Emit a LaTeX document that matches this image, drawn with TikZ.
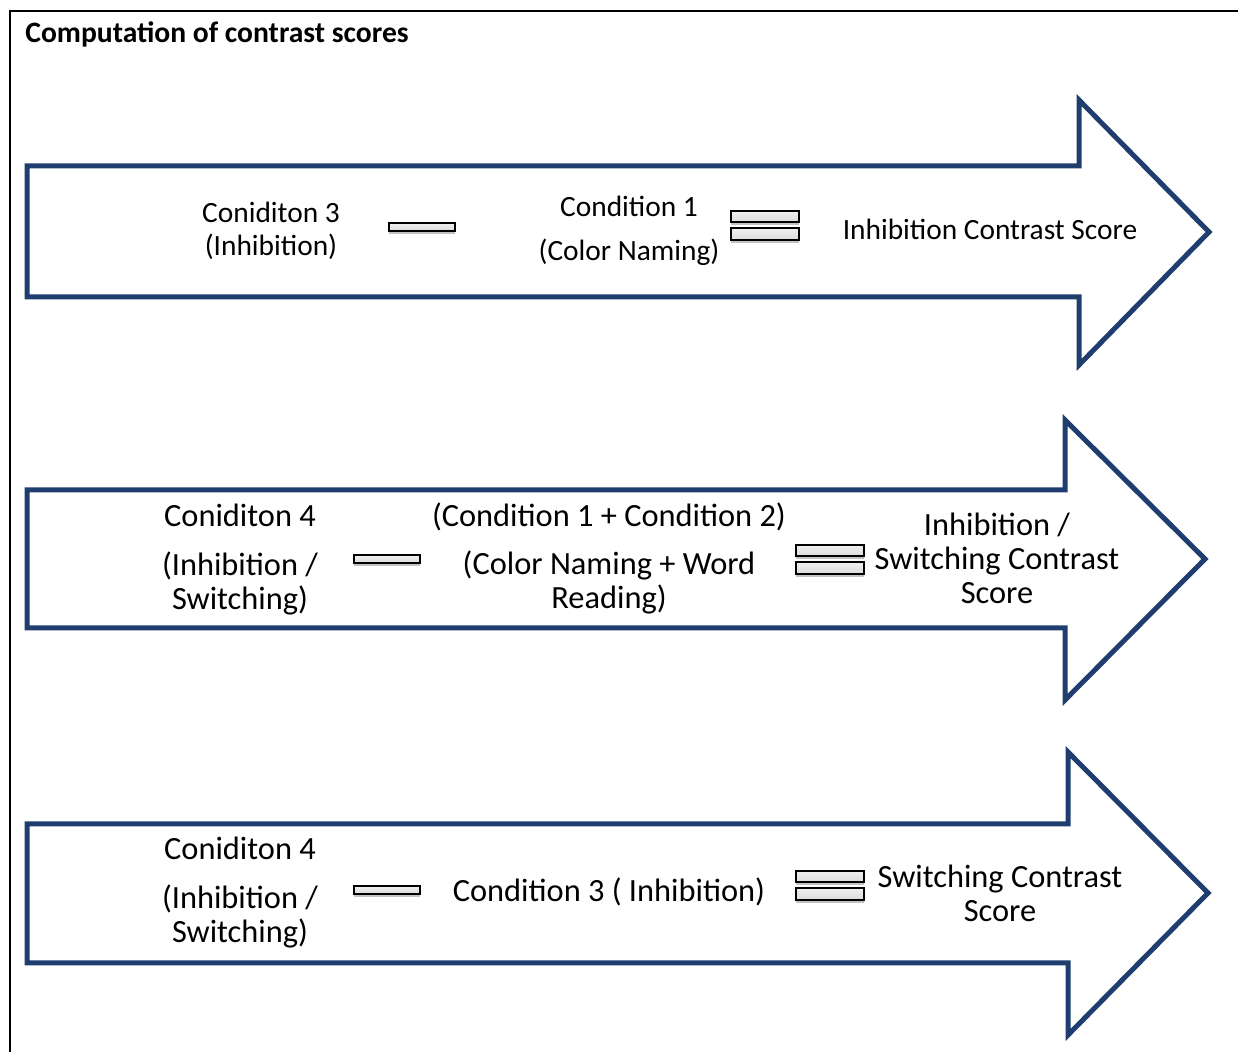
\documentclass[tikz,border=0pt]{standalone}
\usepackage{fontspec}
\setmainfont{Carlito}
\usepackage{tikz}
\usetikzlibrary{shadows,positioning}
\definecolor{arrowblue}{RGB}{31,61,110}
\tikzset{
    scorearrow/.style={draw=arrowblue, line width=2.5pt, line join=miter},
    bartext/.style={align=center, font=\fontsize{14.7}{17}\selectfont, inner sep=0pt},
    bigtext/.style={bartext, font=\fontsize{16.2}{17}\selectfont},
    signbar/.style={draw=black, line width=1pt, top color=gray!12, bottom color=gray!28,
        rectangle, inner sep=0pt, minimum width=33pt,
        drop shadow={shadow xshift=0pt, shadow yshift=-1.5pt, fill=gray!80, opacity=0.6}},
}
% equals sign made of two bars
\newcommand{\eqsign}[3]{%
  \node[signbar, minimum width=34pt, minimum height=5.5pt] (#1top) at (#2,#3-8.5) {};
  \node[signbar, minimum width=34pt, minimum height=6pt] (#1bot) at (#2,#3+9) {};
}
\begin{document}
\begin{tikzpicture}[x=0.5pt,y=-0.5pt]
\useasboundingbox (0,0) rectangle (1238,1052);
%Frame
\draw[line width=1.25pt] (10,1052) -- (10,11) -- (1238,11);
\node[anchor=west, inner sep=0pt, font=\fontsize{14.8}{17}\selectfont\bfseries] (title) at (25,34) {Computation of contrast scores};
%Arrow 1
\draw[scorearrow] (27,166) -- (1079,166) -- (1079,100) -- (1209,232) -- (1079,365) -- (1079,297) -- (27,297) -- cycle;
\node[bartext] (condA) at (271,230.5) {Coniditon 3\\[-0.5pt](Inhibition)};
\node[signbar, minimum height=4pt] (minusA) at (422,227) {};
\node[bartext] (refA) at (629,231) {Condition 1\\[5pt](Color Naming)};
\eqsign{eqA}{764.5}{225}
\node[bartext] (scoreA) at (990,229.5) {Inhibition Contrast Score};
%Arrow 2
\draw[scorearrow] (27,490) -- (1065,490) -- (1065,420) -- (1205,559) -- (1065,700) -- (1065,628) -- (27,628) -- cycle;
\node[bigtext] (condB) at (240,559.5) {Coniditon 4\\[7.5pt](Inhibition /\\Switching)};
\node[signbar, minimum height=4pt] (minusB) at (387,559) {};
\node[bigtext] (refB) at (609,558.5) {(Condition 1 + Condition 2)\\[7pt](Color Naming + Word\\Reading)};
\eqsign{eqB}{830}{559}
\node[bigtext] (scoreB) at (997,558.5) {Inhibition /\\Switching Contrast\\Score};
%Arrow 3
\draw[scorearrow] (27,824) -- (1068,824) -- (1068,752) -- (1208,893) -- (1068,1035) -- (1068,963) -- (27,963) -- cycle;
\node[bigtext] (condC) at (240,893) {Coniditon 4\\[7.5pt](Inhibition /\\Switching)};
\node[signbar, minimum height=4pt] (minusC) at (387,890) {};
\node[bigtext] (refC) at (609,891.5) {Condition 3 ( Inhibition)};
\eqsign{eqC}{830}{885}
\node[bigtext] (scoreC) at (1000,893) {Switching Contrast\\Score};
\end{tikzpicture}
\end{document}
